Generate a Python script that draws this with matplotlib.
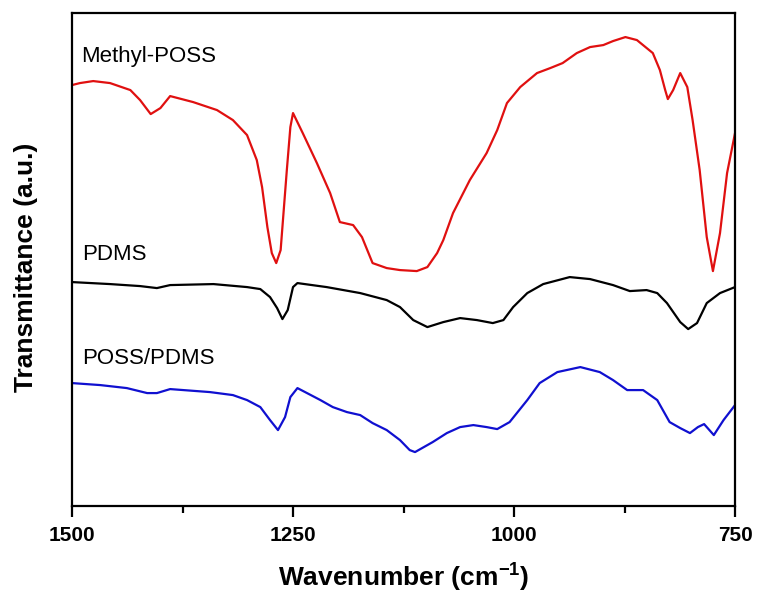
import matplotlib.pyplot as plt
from matplotlib.ticker import MultipleLocator

plt.rcParams['font.family'] = ['Liberation Sans', 'DejaVu Sans']
plt.rcParams['mathtext.fontset'] = 'custom'
plt.rcParams['mathtext.rm'] = 'Liberation Sans'
plt.rcParams['mathtext.bf'] = 'Liberation Sans:bold'

# 数据 (wavenumber, cm-1 / transmittance, a.u.)
wn_methyl = [1500, 1491, 1476, 1457, 1434, 1423, 1411, 1400, 1389, 1363, 1336,
             1318, 1302, 1291, 1285, 1279, 1274, 1269, 1264, 1257, 1253, 1250,
             1239, 1223, 1208, 1197, 1182, 1172, 1160, 1144, 1129, 1110, 1098,
             1087, 1080, 1069, 1050, 1031, 1019, 1008, 993, 974, 959, 945, 929,
             914, 899, 888, 874, 861, 843, 835, 829, 826, 820, 812, 804, 798,
             790, 782, 775, 767, 759, 750]
t_methyl = [4.21, 4.23, 4.25, 4.23, 4.16, 4.06, 3.92, 3.98, 4.10, 4.04, 3.96,
            3.86, 3.71, 3.46, 3.19, 2.79, 2.53, 2.43, 2.56, 3.36, 3.79, 3.93,
            3.73, 3.43, 3.13, 2.84, 2.81, 2.69, 2.43, 2.38, 2.36, 2.35, 2.39,
            2.53, 2.66, 2.93, 3.26, 3.53, 3.76, 4.03, 4.19, 4.33, 4.38, 4.43, 4.53,
            4.59, 4.61, 4.65, 4.69, 4.66, 4.53, 4.36, 4.16, 4.07, 4.16, 4.33, 4.19, 3.86,
            3.36, 2.69, 2.35, 2.73, 3.33, 3.73]

wn_pdms = [1500, 1457, 1423, 1404, 1389, 1340, 1302, 1287, 1276, 1268, 1262,
           1256, 1250, 1245, 1212, 1174, 1144, 1129, 1114, 1098, 1080, 1061,
           1042, 1024, 1012, 1001, 985, 967, 937, 914, 888, 869, 850, 838, 827,
           812, 803, 793, 782, 767, 750]
t_pdms = [2.24, 2.22, 2.20, 2.18, 2.21, 2.22, 2.19, 2.17, 2.09, 1.98, 1.87,
          1.96, 2.19, 2.23, 2.19, 2.13, 2.06, 1.99, 1.86, 1.79, 1.84, 1.88,
          1.86, 1.83, 1.86, 1.99, 2.13, 2.22, 2.29, 2.27, 2.21, 2.15, 2.16, 2.13, 2.03,
          1.84, 1.77, 1.83, 2.03, 2.13, 2.19]

wn_blend = [1500, 1468, 1438, 1415, 1404, 1389, 1344, 1318, 1302, 1287, 1276,
            1267, 1259, 1253, 1245, 1219, 1205, 1189, 1174, 1160, 1144, 1129,
            1118, 1112, 1092, 1076, 1061, 1046, 1031, 1019, 1005, 985, 971, 951,
            925, 903, 888, 872, 854, 838, 824, 812, 801, 792, 785, 781, 774, 763, 750]
t_blend = [1.23, 1.21, 1.18, 1.13, 1.13, 1.17, 1.14, 1.11, 1.06, 0.99, 0.86,
           0.76, 0.89, 1.09, 1.18, 1.06, 0.99, 0.94, 0.91, 0.83, 0.76, 0.66,
           0.56, 0.54, 0.64, 0.73, 0.79, 0.81, 0.79, 0.77, 0.84, 1.06, 1.23, 1.34,
           1.39, 1.34, 1.26, 1.16, 1.16, 1.06, 0.84, 0.78, 0.73, 0.79, 0.82, 0.78, 0.71, 0.86, 1.01]

fig = plt.figure(figsize=(7.58, 5.94), dpi=100)
ax = fig.add_axes([0.095, 0.148, 0.8747, 0.83])

ax.plot(wn_methyl, t_methyl, color='#e01010', lw=1.6, solid_joinstyle='round')
ax.plot(wn_pdms, t_pdms, color='black', lw=1.6, solid_joinstyle='round')
ax.plot(wn_blend, t_blend, color='#1010d0', lw=1.6, solid_joinstyle='round')

# 曲线标签
ax.text(1490, 4.50, 'Methyl-POSS', fontsize=16, va='center')
ax.text(1489, 2.52, 'PDMS', fontsize=16, va='center')
ax.text(1489, 1.48, 'POSS/PDMS', fontsize=16, va='center')

ax.set_xlim(1500, 750)
ax.set_ylim(0, 4.93)
ax.xaxis.set_major_locator(MultipleLocator(250))
ax.xaxis.set_minor_locator(MultipleLocator(125))
ax.set_yticks([])

for s in ax.spines.values():
    s.set_linewidth(1.6)

ax.tick_params(axis='x', which='major', direction='out', length=8, width=1.6,
               labelsize=15, pad=6)
ax.tick_params(axis='x', which='minor', direction='out', length=5, width=1.6)
for lab in ax.get_xticklabels():
    lab.set_fontweight('bold')

ax.set_xlabel('Wavenumber (cm$^{\\mathbf{-1}}$)', fontsize=19, fontweight='bold', labelpad=11)
ax.set_ylabel('Transmittance (a.u.)', fontsize=19, fontweight='bold')
ax.yaxis.set_label_coords(-0.052, 0.485)

plt.savefig('out.png', dpi=100)
